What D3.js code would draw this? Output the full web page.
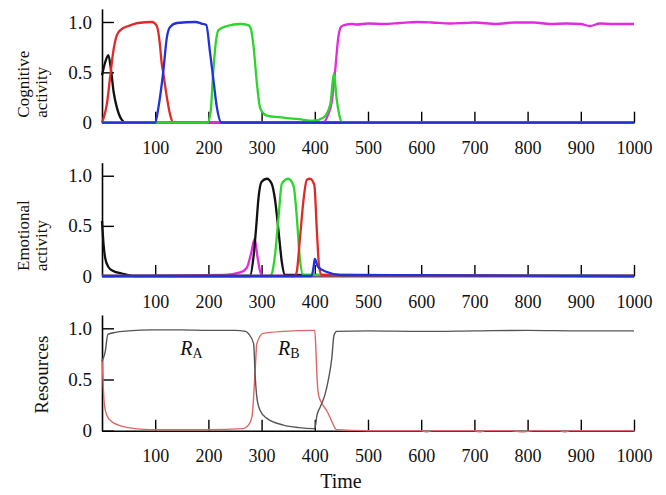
<!DOCTYPE html>
<html>
<head>
<meta charset="utf-8">
<script src="https://cdn.jsdelivr.net/npm/d3@7"></script>
<style>
  body { margin: 0; background: #fff; }
  text { font-family: "Liberation Serif", "Times New Roman", serif; }
</style>
</head>
<body>
<script>
// time ticks
const xTickValues = [100, 200, 300, 400, 500, 600, 700, 800, 900, 1000];
const yTickValues = [0, 0.5, 1.0];
const yTickLabels = ["0", "0.5", "1.0"];

// panel 1 - cognitive activity
const cogBlackT = [0, 6, 12, 17, 22, 28, 37, 45, 1000];
const cogBlackV = [0.47, 0.6, 0.67, 0.52, 0.3, 0.15, 0.03, 0, 0];
const cogRedT = [0, 2, 9, 15, 21, 28, 37, 50, 68, 94, 103, 109, 112, 115, 122, 128, 134, 1000];
const cogRedV = [0, 0.03, 0.18, 0.44, 0.7, 0.87, 0.93, 0.96, 0.99, 1.0, 0.96, 0.77, 0.6, 0.5, 0.25, 0.08, 0, 0];
const cogBlueT = [0, 100, 106, 115, 122, 128, 141, 175, 190, 196, 203, 210, 216, 225, 1000];
const cogBlueV = [0, 0, 0.15, 0.5, 0.85, 0.95, 0.99, 1.0, 0.98, 0.97, 0.7, 0.4, 0.15, 0, 0];
const cogGreenT = [0, 198, 204, 209, 214, 219, 235, 260, 275, 280, 285, 291, 297, 304, 310, 341, 370, 397, 416, 429, 436, 441, 446, 451, 1000];
const cogGreenV = [0, 0, 0.1, 0.5, 0.8, 0.92, 0.96, 0.98, 0.97, 0.93, 0.75, 0.4, 0.15, 0.09, 0.07, 0.05, 0.035, 0.02, 0.05, 0.18, 0.49, 0.24, 0.08, 0, 0];
const cogMagT = [0, 415, 425, 432, 438, 444, 449, 455, 470, 479, 500, 530, 560, 591, 620, 654, 680, 700, 741, 775, 812, 842, 873, 900, 917, 936, 960, 1000];
const cogMagV = [0, 0, 0.08, 0.21, 0.5, 0.84, 0.95, 0.97, 0.98, 0.975, 0.985, 0.98, 0.99, 1.0, 0.995, 0.985, 0.99, 0.995, 0.98, 0.995, 0.995, 0.98, 0.985, 0.98, 0.96, 0.985, 0.98, 0.98];

// panel 2 - emotional activity
const emoBlackT = [0, 3, 6, 12, 21, 37, 60, 278, 285, 290, 294, 300, 310, 319, 325, 332, 338, 344, 1000];
const emoBlackV = [0.55, 0.31, 0.18, 0.09, 0.05, 0.025, 0, 0, 0.2, 0.5, 0.77, 0.94, 0.97, 0.92, 0.77, 0.44, 0.14, 0.01, 0];
const emoGreenT = [0, 315, 319, 325, 332, 338, 350, 360, 366, 372, 378, 1000];
const emoGreenV = [0, 0, 0.02, 0.2, 0.6, 0.92, 0.97, 0.9, 0.6, 0.17, 0.01, 0];
const emoRedT = [0, 362, 366, 372, 379, 385, 391, 399, 404, 408, 413, 1000];
const emoRedV = [0, 0, 0.04, 0.37, 0.77, 0.96, 0.97, 0.91, 0.44, 0.1, 0.01, 0];
const emoMagT = [0, 230, 260, 272, 280, 287, 292, 297, 302, 1000];
const emoMagV = [0, 0.01, 0.036, 0.08, 0.22, 0.37, 0.2, 0.05, 0, 0];
const emoBlueT = [0, 394, 398, 400, 406, 423, 448, 1000];
const emoBlueV = [0, 0, 0.1, 0.17, 0.09, 0.04, 0.01, 0];

// panel 3 - resources
const resAT = [0, 6, 11, 25, 50, 94, 150, 200, 250, 270, 275, 285, 288, 291, 297, 310, 341, 370, 397, 400, 404, 410, 419, 426, 432, 436, 441, 500, 600, 700, 800, 900, 1000];
const resAV = [0.68, 0.77, 0.94, 0.96, 0.975, 0.985, 0.985, 0.98, 0.98, 0.97, 0.95, 0.85, 0.53, 0.33, 0.2, 0.12, 0.055, 0.03, 0.02, 0.02, 0.15, 0.23, 0.35, 0.51, 0.71, 0.93, 0.97, 0.975, 0.97, 0.975, 0.98, 0.975, 0.975];
const resBT = [0, 2, 4, 9, 18, 31, 50, 81, 100, 200, 265, 273, 282, 288, 291, 303, 341, 397, 400, 402, 404, 407, 413, 423, 432, 441, 500, 600, 610, 620, 700, 710, 720, 770, 790, 810, 860, 870, 880, 1000];
const resBV = [0.71, 0.48, 0.28, 0.15, 0.09, 0.055, 0.03, 0.013, 0.01, 0.01, 0.02, 0.04, 0.14, 0.6, 0.85, 0.95, 0.97, 0.98, 0.98, 0.8, 0.54, 0.35, 0.27, 0.19, 0.09, 0.01, 0, 0, -0.01, 0, 0, -0.01, 0, 0, -0.01, 0, 0, -0.01, 0, 0];

const width = 666, height = 495;

const svg = d3.select("body").append("svg")
  .attr("width", width)
  .attr("height", height);

const x = d3.scaleLinear().domain([0, 1000]).range([102, 634]);

const panels = [
  {
    base: 122.7, top: 8.9, label: ["Cognitive", "activity"], size: 17,
    series: [
      [cogBlackT, cogBlackV, "#111"],
      [cogRedT, cogRedV, "#e02a2a"],
      [cogMagT, cogMagV, "#e22ae0"],
      [cogGreenT, cogGreenV, "#2ed42e"],
      [cogBlueT, cogBlueV, "#2232d8"]
    ], lw: 2.3
  },
  {
    base: 276, top: 162.7, label: ["Emotional", "activity"], size: 17,
    series: [
      [emoMagT, emoMagV, "#e22ae0"],
      [emoBlackT, emoBlackV, "#111"],
      [emoGreenT, emoGreenV, "#2ed42e"],
      [emoRedT, emoRedV, "#e02a2a"],
      [emoBlueT, emoBlueV, "#2232d8"]
    ], lw: 2.3
  },
  {
    base: 430.7, top: 315, label: ["Resources"], size: 19,
    series: [
      [resBT, resBV, "#e06666"],
      [resAT, resAV, "#555"]
    ], lw: 1.4
  }
];

panels.forEach((p, pi) => {
  const y = d3.scaleLinear().domain([0, 1.13]).range([p.base, p.top]);
  const g = svg.append("g");

  const xAxis = g.append("g")
    .attr("transform", `translate(0,${p.base})`)
    .call(d3.axisBottom(x).tickValues(xTickValues).tickSize(-11).tickSizeOuter(0).tickPadding(19).tickFormat(d3.format("d")));
  const yAxis = g.append("g")
    .attr("transform", `translate(${x(0)},0)`)
    .call(d3.axisLeft(y).tickValues(yTickValues).tickSize(-12).tickSizeOuter(0).tickPadding(10)
      .tickFormat((d, i) => yTickLabels[i]));

  [xAxis, yAxis].forEach(a => {
    a.select(".domain").attr("stroke", "#000").attr("stroke-width", 1.6);
    a.selectAll(".tick line").attr("stroke", "#000").attr("stroke-width", 1.4);
    a.selectAll(".tick text").attr("font-size", 18).attr("fill", "#111")
      .style("font-family", "'Liberation Serif', serif");
  });
  yAxis.selectAll(".tick text").attr("font-size", 19);

  const line = d3.line()
    .x(d => x(d[0]))
    .y(d => y(d[1]))
    .curve(d3.curveMonotoneX);

  p.series.forEach(s => {
    const pts = s[0].map((t, i) => [t, s[1][i]]);
    g.append("path")
      .datum(pts)
      .attr("fill", "none")
      .attr("stroke", s[2])
      .attr("stroke-width", p.lw)
      .attr("stroke-linejoin", "round")
      .attr("d", line);
  });

  // y axis title
  const lab = g.append("text")
    .attr("transform", `translate(0,${pi === 2 ? p.base - 17 : p.base - 5}) rotate(-90)`)
    .attr("font-size", p.size)
    .attr("fill", "#111");
  p.label.forEach((l, i) => {
    lab.append("tspan")
      .attr("x", 0)
      .attr("y", pi === 2 ? 48 : 29 + i * 18)
      .text(l);
  });

  if (pi === 2) {
    const annot = [["R", "A", 147, 0.74], ["R", "B", 331, 0.74]];
    annot.forEach(a => {
      const t = g.append("text")
        .attr("x", x(a[2]))
        .attr("y", y(a[3]))
        .attr("font-size", 20)
        .attr("fill", "#111");
      t.append("tspan").attr("font-style", "italic").text(a[0]);
      t.append("tspan").attr("font-size", 14).attr("dy", 3).text(a[1]);
    });
  }
});

svg.append("text")
  .attr("x", 341)
  .attr("y", 488)
  .attr("text-anchor", "middle")
  .attr("font-size", 20)
  .attr("fill", "#111")
  .text("Time");
</script>
</body>
</html>
